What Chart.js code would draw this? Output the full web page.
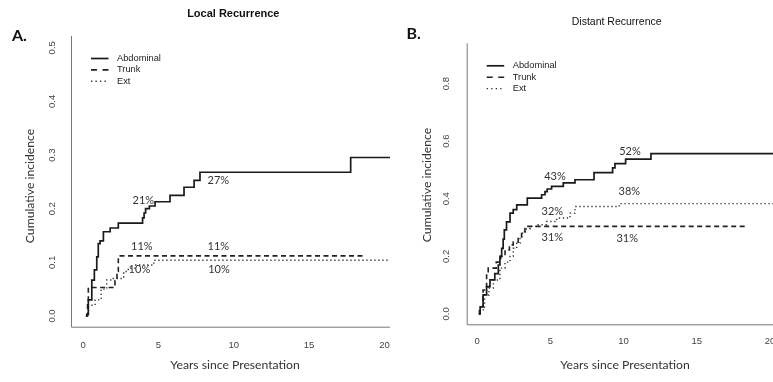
<!DOCTYPE html>
<html>
<head>
<meta charset="utf-8">
<script src="https://cdn.jsdelivr.net/npm/chart.js@4"></script>
<style>
  html, body { margin: 0; padding: 0; background: #fff; }
  #wrap { position: relative; width: 773px; height: 382px; overflow: hidden; }
  canvas { position: absolute; top: 0; }
  #localChart { left: 0; }
  #distantChart { left: 390px; }
</style>
</head>
<body>
<div id="wrap">
  <canvas id="localChart" width="390" height="382"></canvas>
  <canvas id="distantChart" width="383" height="382"></canvas>
</div>
<script>
// Panel A - local recurrence (years since presentation, cumulative incidence)
const localAbdYears = [0.18, 0.25, 0.35, 0.58, 0.75, 0.91, 1.01, 1.13, 1.35, 1.8, 2.34, 3.95, 4.05, 4.15, 4.4, 4.78, 5.77, 6.7, 7.37, 7.76, 17.76, 20.8];
const localAbdInc   = [0, 0.003, 0.03, 0.067, 0.086, 0.11, 0.135, 0.14, 0.157, 0.164, 0.173, 0.183, 0.192, 0.2, 0.205, 0.213, 0.225, 0.24, 0.253, 0.268, 0.2955, 0.2955];
const localTrunkYears = [0.2, 0.3, 0.35, 2.12, 2.25, 2.34, 18.6];
const localTrunkInc   = [0, 0.026, 0.053, 0.066, 0.083, 0.112, 0.112];
const localExtYears = [0.2, 0.35, 0.8, 1.2, 1.57, 1.9, 2.7, 3.0, 3.5, 4.7, 20.8];
const localExtInc   = [0, 0.02, 0.03, 0.05, 0.067, 0.07, 0.083, 0.089, 0.095, 0.104, 0.104];

// Panel B - distant recurrence
const distAbdYears = [0.14, 0.2, 0.4, 0.64, 0.87, 1.2, 1.44, 1.55, 1.67, 1.77, 1.85, 2.0, 2.24, 2.46, 2.7, 3.42, 4.4, 4.63, 4.78, 5.08, 5.88, 6.68, 7.98, 9.25, 9.41, 10.14, 11.87, 20.9];
const distAbdInc   = [0, 0.025, 0.066, 0.095, 0.118, 0.14, 0.17, 0.2, 0.228, 0.26, 0.292, 0.32, 0.35, 0.362, 0.379, 0.402, 0.414, 0.425, 0.434, 0.443, 0.455, 0.466, 0.491, 0.507, 0.522, 0.538, 0.5565, 0.5565];
const distTrunkYears = [0.1, 0.15, 0.4, 0.64, 0.75, 1.3, 1.6, 1.9, 2.2, 2.46, 2.8, 3.03, 3.26, 18.45];
const distTrunkInc   = [0, 0.025, 0.083, 0.14, 0.159, 0.18, 0.2, 0.222, 0.24, 0.25, 0.263, 0.286, 0.304, 0.304];
const distExtYears = [0.1, 0.2, 0.5, 0.8, 1.1, 1.55, 1.9, 2.24, 2.46, 2.7, 2.92, 3.1, 3.3, 3.6, 4.06, 4.74, 5.43, 6.34, 6.68, 9.7, 20.9];
const distExtInc   = [0, 0.014, 0.066, 0.09, 0.118, 0.159, 0.18, 0.2, 0.228, 0.246, 0.269, 0.285, 0.295, 0.304, 0.31, 0.321, 0.333, 0.35, 0.373, 0.383, 0.383];

const groups = ['Abdominal', 'Trunk', 'Ext'];
const xTicks = [0, 5, 10, 15, 20];
const localYTicks = [0.0, 0.1, 0.2, 0.3, 0.4, 0.5];
const distYTicks = [0.0, 0.2, 0.4, 0.6, 0.8];

// percentage annotations: [text, year, incidence]
const localNotes = [['21%', 4.0, 0.216], ['27%', 8.98, 0.253], ['11%', 3.9, 0.129], ['11%', 8.98, 0.129], ['10%', 3.74, 0.086], ['10%', 9.02, 0.086]];
const distNotes = [['43%', 5.31, 0.478], ['52%', 10.44, 0.565], ['38%', 10.39, 0.425], ['32%', 5.13, 0.356], ['31%', 5.13, 0.267], ['31%', 10.25, 0.261]];

const lineStyles = [
  { color: '#1a1a1a', width: 1.7, dash: [], legendDash: [] },
  { color: '#222', width: 1.6, dash: [5, 3.5], legendDash: [6, 5.5] },
  { color: '#333', width: 1.4, dash: [1.3, 2.7], legendDash: [1.3, 3.2] }
];

function pts(xs, ys) {
  return xs.map((x, i) => ({ x: x, y: ys[i] }));
}

// draws the R-style frame, ticks, titles, legend and labels
const panelDecor = {
  id: 'panelDecor',
  afterDraw(chart, args, o) {
    const ctx = chart.ctx;
    const { left, right, top, bottom } = chart.chartArea;
    const xs = chart.scales.x, ys = chart.scales.y;
    ctx.save();

    ctx.strokeStyle = '#777';
    ctx.lineWidth = 1;
    ctx.setLineDash([]);
    ctx.beginPath();
    ctx.moveTo(left + 0.5, top);
    ctx.lineTo(left + 0.5, bottom + 0.5);
    ctx.lineTo(right, bottom + 0.5);
    ctx.stroke();

    ctx.fillStyle = '#444';
    ctx.font = '9.5px "Liberation Sans", Arial, sans-serif';
    ctx.textAlign = 'center';
    ctx.textBaseline = 'middle';
    xTicks.forEach(t => ctx.fillText(String(t), xs.getPixelForValue(t), bottom + o.xTickGap));
    o.yTicks.forEach(t => {
      ctx.save();
      ctx.translate(left - o.yTickGap, ys.getPixelForValue(t));
      ctx.rotate(-Math.PI / 2);
      ctx.fillText(t.toFixed(1), 0, 0);
      ctx.restore();
    });

    // titles
    ctx.fillStyle = '#111';
    ctx.font = o.titleFont;
    ctx.fillText(o.title, o.titleX, o.titleY);
    ctx.font = 'bold 16px Lato, "Open Sans", sans-serif';
    ctx.textAlign = 'left';
    ctx.fillText(o.tag, o.tagX, o.tagY);

    ctx.fillStyle = '#333';
    ctx.textAlign = 'center';
    ctx.font = '12.2px Lato, "Open Sans", sans-serif';
    ctx.fillText('Years since Presentation', o.xTitleX, o.xTitleY);
    ctx.save();
    ctx.translate(o.yTitleX, o.yTitleY);
    ctx.rotate(-Math.PI / 2);
    ctx.fillText('Cumulative incidence', 0, 0);
    ctx.restore();

    // legend
    ctx.font = '9.3px "Liberation Sans", Arial, sans-serif';
    ctx.textAlign = 'left';
    groups.forEach((g, i) => {
      const ly = top + 22.5 + i * 11.4;
      const s = lineStyles[i];
      ctx.strokeStyle = s.color;
      ctx.lineWidth = s.width;
      ctx.setLineDash(s.legendDash);
      ctx.beginPath();
      ctx.moveTo(left + 20, ly);
      ctx.lineTo(left + 37.5, ly);
      ctx.stroke();
      ctx.fillStyle = '#222';
      ctx.fillText(g, left + 46, ly);
    });

    // percentages
    ctx.fillStyle = '#333';
    ctx.textAlign = 'center';
    ctx.font = '11px Lato, "Open Sans", sans-serif';
    o.notes.forEach(n => ctx.fillText(n[0], xs.getPixelForValue(n[1]), ys.getPixelForValue(n[2])));

    ctx.restore();
  }
};

function makePanel(id, series, cfg) {
  new Chart(document.getElementById(id), {
    type: 'line',
    data: {
      datasets: series.map((s, i) => ({
        label: groups[i],
        data: s,
        stepped: true,
        fill: false,
        pointRadius: 0,
        borderColor: lineStyles[i].color,
        borderWidth: lineStyles[i].width,
        borderDash: lineStyles[i].dash,
        borderCapStyle: 'butt'
      }))
    },
    options: {
      responsive: false,
      animation: false,
      devicePixelRatio: 1,
      layout: { padding: cfg.padding },
      scales: {
        x: { type: 'linear', min: cfg.xMin, max: cfg.xMax, display: false },
        y: { type: 'linear', min: cfg.yMin, max: cfg.yMax, display: false }
      },
      plugins: {
        legend: { display: false },
        tooltip: { enabled: false },
        panelDecor: cfg.decor
      }
    },
    plugins: [panelDecor]
  });
}

makePanel('localChart',
  [pts(localAbdYears, localAbdInc), pts(localTrunkYears, localTrunkInc), pts(localExtYears, localExtInc)],
  {
    padding: { left: 71, right: 0, top: 36, bottom: 55.3 },
    xMin: -0.8, xMax: 20.37, yMin: -0.02, yMax: 0.522,
    decor: {
      yTicks: localYTicks, notes: localNotes, xTickGap: 18.3, yTickGap: 18.5,
      title: 'Local Recurrence', titleFont: 'bold 11px "Liberation Sans", Arial, sans-serif', titleX: 233.3, titleY: 13.5,
      tag: 'A.', tagX: 12, tagY: 36,
      xTitleX: 235, xTitleY: 365, yTitleX: 30, yTitleY: 186
    }
  });

makePanel('distantChart',
  [pts(distAbdYears, distAbdInc), pts(distTrunkYears, distTrunkInc), pts(distExtYears, distExtInc)],
  {
    padding: { left: 76.7, right: 0, top: 43.3, bottom: 57.7 },
    xMin: -0.72, xMax: 20.21, yMin: -0.036, yMax: 0.94,
    decor: {
      yTicks: distYTicks, notes: distNotes, xTickGap: 17.4, yTickGap: 20,
      title: 'Distant Recurrence', titleFont: '10.5px "Liberation Sans", Arial, sans-serif', titleX: 226.7, titleY: 21.7,
      tag: 'B.', tagX: 16.5, tagY: 34,
      xTitleX: 235, xTitleY: 365, yTitleX: 37.3, yTitleY: 185
    }
  });
</script>
</body>
</html>
